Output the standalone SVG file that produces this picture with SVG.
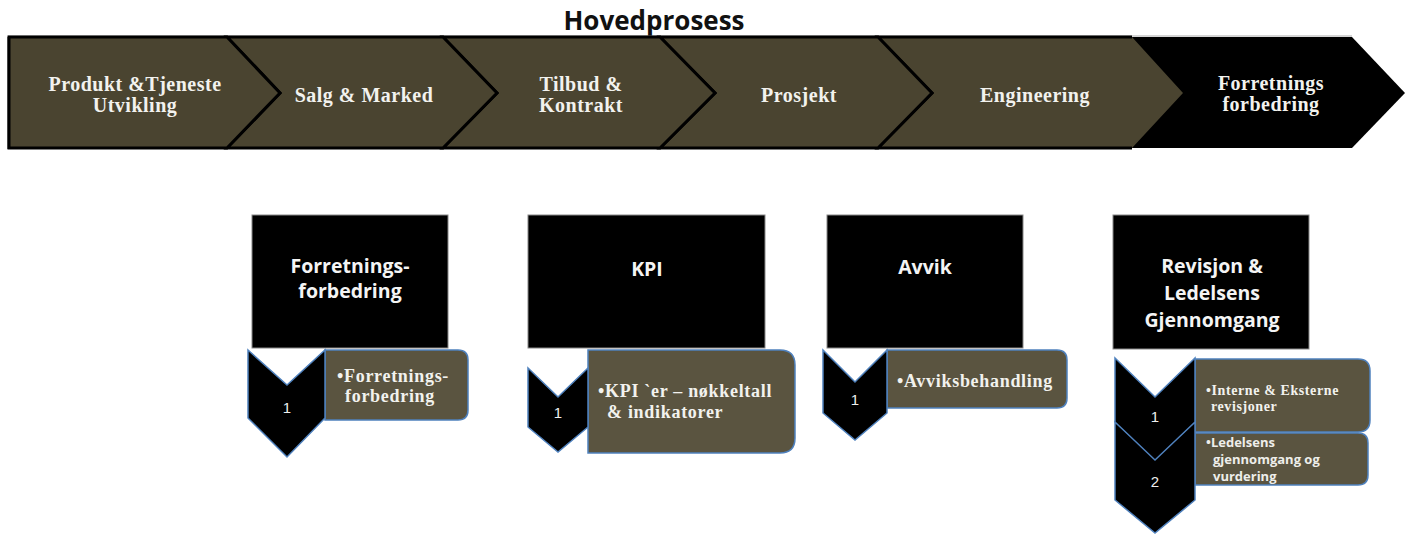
<svg xmlns="http://www.w3.org/2000/svg" width="1413" height="536" viewBox="0 0 1413 536">
  <style>
    .seg { fill: #4a4430; stroke: #000; stroke-width: 3; stroke-linejoin: miter; }
    .bar-txt { font-family: "Liberation Serif", "Times New Roman", serif; font-weight: bold; font-size: 20px; letter-spacing: 0.5px; fill: #f2f2ee; text-anchor: middle; }
    .title { font-family: "Open Sans", "Liberation Sans", sans-serif; font-weight: bold; font-size: 26px; fill: #111; text-anchor: middle; }
    .head { fill: #000; stroke: #888; stroke-width: 1; }
    .head-txt { font-family: "Open Sans", "Liberation Sans", sans-serif; font-weight: bold; font-size: 19.5px; fill: #f4f4f4; text-anchor: middle; }
    .chev { fill: #000; stroke: #4f81bd; stroke-width: 1.5; stroke-linejoin: miter; }
    .num { font-family: "Liberation Sans", Arial, sans-serif; font-size: 15px; fill: #eee; text-anchor: middle; }
    .call { fill: #5a5440; stroke: #4f81bd; stroke-width: 1.5; }
    .call-txt { font-family: "Liberation Serif", "Times New Roman", serif; font-weight: bold; font-size: 18px; letter-spacing: 0.7px; fill: #f2f2ee; }
    .call-small { font-size: 14px; letter-spacing: 0.6px; }
    .call-sans { font-family: "Open Sans", "Liberation Sans", sans-serif; font-weight: bold; font-size: 13px; fill: #eeeeea; }
  </style>

  <!-- Main process title -->
  <text class="title" x="654" y="30">Hovedprosess</text>

  <!-- Main process chevron bar -->
  <g id="main-process">
    <line x1="8" y1="36" x2="1352" y2="36" stroke="#aaa" stroke-width="1"/>
    <rect x="7" y="37" width="2" height="112" fill="#888"/>
    <polygon points="1132,37 1352,37 1405,93 1352,148 1132,148" fill="#000"/>
    <polygon class="seg" points="878,37 1132,37 1183,93 1132,148 878,148 932,93" style="stroke:none"/>
    <path d="M1132,37 L878,37 L932,93 L878,148 L1132,148" fill="none" stroke="#000" stroke-width="3"/>
    <polygon class="seg" points="660,37 878,37 932,93 878,148 660,148 715,93"/>
    <polygon class="seg" points="443,37 660,37 715,93 660,148 443,148 497,93"/>
    <polygon class="seg" points="227,37 443,37 497,93 443,148 227,148 280,93"/>
    <polygon class="seg" points="9,37 227,37 280,93 227,148 9,148"/>

    <text class="bar-txt" x="135" y="91">Produkt &amp;Tjeneste</text>
    <text class="bar-txt" x="135" y="112">Utvikling</text>
    <text class="bar-txt" x="364" y="102">Salg &amp; Marked</text>
    <text class="bar-txt" x="581" y="91">Tilbud &amp;</text>
    <text class="bar-txt" x="581" y="112">Kontrakt</text>
    <text class="bar-txt" x="799" y="102">Prosjekt</text>
    <text class="bar-txt" x="1035" y="102">Engineering</text>
    <text class="bar-txt" x="1271" y="90">Forretnings</text>
    <text class="bar-txt" x="1271" y="111">forbedring</text>
  </g>

  <!-- Forretningsforbedring -->
  <g id="forretningsforbedring">
    <rect class="head" x="252" y="215" width="196" height="133"/>
    <text class="head-txt" x="350" y="273">Forretnings-</text>
    <text class="head-txt" x="350" y="298">forbedring</text>
    <path class="call" d="M325,350 H458 Q468,350 468,360 V410 Q468,420 458,420 H325 Z"/>
    <polygon class="chev" points="248,350 287,385 325,350 325,418 287,457 248,418"/>
    <text class="num" x="287" y="413">1</text>
    <text class="call-txt" x="337" y="382">•Forretnings-</text>
    <text class="call-txt" x="345" y="402">forbedring</text>
  </g>

  <!-- KPI -->
  <g id="kpi">
    <rect class="head" x="528" y="215" width="237" height="133"/>
    <text class="head-txt" x="647" y="276">KPI</text>
    <path class="call" d="M588,350 H780 Q795,350 795,365 V438 Q795,453 780,453 H588 Z"/>
    <polygon class="chev" points="528,368 558,397 588,368 588,427 558,452 528,427"/>
    <text class="num" x="558" y="418">1</text>
    <text class="call-txt" x="598" y="397">•KPI `er – nøkkeltall</text>
    <text class="call-txt" x="607" y="418">&amp; indikatorer</text>
  </g>

  <!-- Avvik -->
  <g id="avvik">
    <rect class="head" x="827" y="215" width="196" height="133"/>
    <text class="head-txt" x="925" y="274">Avvik</text>
    <path class="call" d="M887,350 H1057 Q1067,350 1067,360 V398 Q1067,408 1057,408 H887 Z"/>
    <polygon class="chev" points="823,350 855,382 887,350 887,413 855,440 823,413"/>
    <text class="num" x="855" y="405">1</text>
    <text class="call-txt" x="897" y="387">•Avviksbehandling</text>
  </g>

  <!-- Revisjon og ledelsens gjennomgang -->
  <g id="revisjon">
    <rect class="head" x="1113" y="215" width="196" height="134"/>
    <text class="head-txt" x="1212" y="273">Revisjon &amp;</text>
    <text class="head-txt" x="1212" y="300">Ledelsens</text>
    <text class="head-txt" x="1212" y="327">Gjennomgang</text>
    <path class="call" d="M1195,359 H1358 Q1370,359 1370,371 V420 Q1370,432 1358,432 H1195 Z"/>
    <path class="call" d="M1195,433 H1358 Q1368,433 1368,443 V475 Q1368,485 1358,485 H1195 Z"/>
    <polygon class="chev" points="1115,422 1155,458 1195,422 1195,500 1155,533 1115,500"/>
    <polygon class="chev" points="1115,358 1155,397 1195,358 1195,422 1155,460 1115,422"/>
    <text class="num" x="1155" y="422">1</text>
    <text class="num" x="1155" y="487">2</text>
    <text class="call-txt call-small" x="1206" y="395">•Interne &amp; Eksterne</text>
    <text class="call-txt call-small" x="1211" y="411">revisjoner</text>
    <text class="call-sans" x="1206" y="447">•Ledelsens</text>
    <text class="call-sans" x="1213" y="464">gjennomgang og</text>
    <text class="call-sans" x="1213" y="481">vurdering</text>
  </g>
</svg>
